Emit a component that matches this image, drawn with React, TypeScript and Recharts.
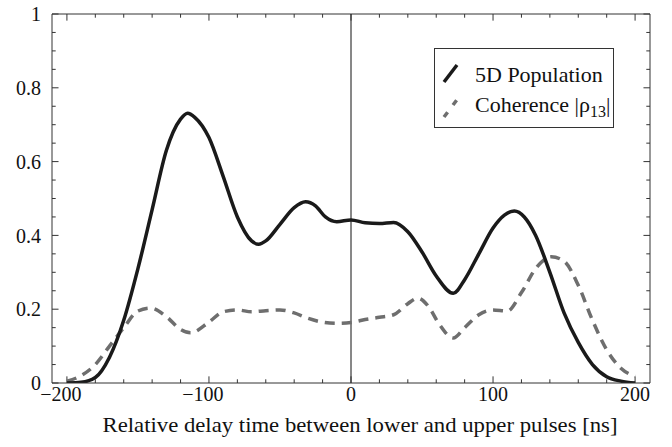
import { Line, LineChart, ReferenceLine, XAxis, YAxis } from "recharts";

const popTimes = [
  -200, -190, -180, -170, -160, -150, -140, -130, -120, -115, -110, -100, -90,
  -80, -70, -65, -60, -50, -40, -32, -25, -18, -10, 0, 10, 20, 30, 40, 50, 60,
  72, 80, 90, 100, 108, 115, 122, 130, 140, 150, 160, 170, 180, 190, 200,
];
const popValues = [
  0.0, 0.002, 0.015, 0.07, 0.17, 0.31, 0.47, 0.63, 0.715, 0.731, 0.72, 0.665,
  0.56, 0.45, 0.385, 0.376, 0.385, 0.43, 0.475, 0.491, 0.48, 0.45, 0.437,
  0.442, 0.434, 0.432, 0.435, 0.41, 0.355, 0.29, 0.243, 0.28, 0.35, 0.42,
  0.455, 0.466, 0.45, 0.4, 0.3, 0.19, 0.11, 0.05, 0.017, 0.005, 0.0,
];
const cohTimes = [
  -200, -190, -180, -170, -160, -150, -141, -130, -120, -113, -100, -90, -80,
  -70, -60, -50, -40, -30, -20, -10, 0, 10, 20, 30, 40, 47, 55, 62, 72, 80,
  90, 100, 110, 120, 130, 141, 150, 160, 170, 180, 190, 200,
];
const cohValues = [
  0.005, 0.02, 0.05, 0.1, 0.15, 0.195, 0.203, 0.18, 0.145, 0.136, 0.165,
  0.193, 0.198, 0.193, 0.196, 0.198, 0.19, 0.175, 0.165, 0.162, 0.164, 0.172,
  0.178, 0.185, 0.215, 0.23, 0.205, 0.16, 0.122, 0.15, 0.185, 0.198, 0.195,
  0.245, 0.31, 0.342, 0.33, 0.265, 0.17, 0.09, 0.04, 0.018,
];

const xTicks = [-200, -100, 0, 100, 200];
const yTicks = [0, 0.2, 0.4, 0.6, 0.8, 1];
const xMinorTicks = Array.from({ length: 21 }, (_, i) => -200 + i * 20);
const yMinorTicks = Array.from({ length: 21 }, (_, i) => +(i * 0.05).toFixed(2));

const seriesNames = ["5D Population", "Coherence"];
const xTitle = "Relative delay time between lower and upper pulses [ns]";

const popData = popTimes.map((t, i) => ({ t, v: popValues[i] }));
const cohData = cohTimes.map((t, i) => ({ t, v: cohValues[i] }));

const X_MIN = -210.5;
const X_MAX = 210.5;
const FONT = "Liberation Serif";
const FRAME = "#333";
const INK = "#111";

function XTick({ x, y, payload }: any) {
  const v = payload.value as number;
  const text = v < 0 ? `\u2212${Math.abs(v)}` : `${v}`;
  return (
    <text
      x={x + (v < 0 ? -6 : 0)}
      y={y + 16}
      textAnchor="middle"
      fontFamily={FONT}
      fontSize={20}
      fill={INK}
    >
      {text}
    </text>
  );
}

function XTitle({ viewBox }: any) {
  const { x, width } = viewBox;
  return (
    <text
      x={x + width / 2 + 9}
      y={432}
      textAnchor="middle"
      fontFamily={FONT}
      fontSize={21}
      fill={INK}
      textLength={515}
      lengthAdjust="spacingAndGlyphs"
    >
      {xTitle}
    </text>
  );
}

function tickMarks() {
  const marks = [];
  const major = (v: number, list: number[]) => list.some((m) => Math.abs(m - v) < 1e-6);
  for (const x of xMinorTicks) {
    const h = major(x, xTicks) ? 0.018 : 0.01;
    marks.push(
      <ReferenceLine key={`xb${x}`} segment={[{ x, y: 0 }, { x, y: h }]} stroke={FRAME} />,
      <ReferenceLine key={`xt${x}`} segment={[{ x, y: 1 }, { x, y: 1 - h }]} stroke={FRAME} />,
    );
  }
  for (const y of yMinorTicks) {
    const w = major(y, yTicks) ? 4.6 : 2.6;
    marks.push(
      <ReferenceLine key={`yl${y}`} segment={[{ x: X_MIN, y }, { x: X_MIN + w, y }]} stroke={FRAME} />,
      <ReferenceLine key={`yr${y}`} segment={[{ x: X_MAX, y }, { x: X_MAX - w, y }]} stroke={FRAME} />,
    );
  }
  return marks;
}

export default function App() {
  return (
    <div style={{ position: "absolute", left: 0, top: 0, width: 672, height: 447, background: "#fff", fontFamily: FONT }}>
      <LineChart
        width={672}
        height={447}
        margin={{ top: 14, right: 22, bottom: 8, left: 0 }}
        style={{ fontFamily: FONT }}
      >
        <XAxis
          type="number"
          dataKey="t"
          domain={[X_MIN, X_MAX]}
          ticks={xTicks}
          tickLine={false}
          tickSize={0}
          axisLine={{ stroke: FRAME }}
          height={56}
          tick={<XTick />}
          allowDataOverflow
          label={<XTitle />}
        />
        <YAxis
          type="number"
          domain={[0, 1]}
          ticks={yTicks}
          tickFormatter={(v: number) => `${v}`}
          tickLine={false}
          tickSize={0}
          tickMargin={11}
          axisLine={{ stroke: FRAME }}
          width={52}
          tick={{ fill: INK, fontSize: 20, fontFamily: FONT }}
          allowDataOverflow
        />
        <ReferenceLine y={1} stroke={FRAME} />
        <ReferenceLine x={X_MAX} stroke={FRAME} />
        <ReferenceLine x={0} stroke={INK} strokeWidth={1} />
        {tickMarks()}
        <Line
          data={cohData}
          dataKey="v"
          name={seriesNames[1]}
          type="monotone"
          stroke="#6e6e6e"
          strokeWidth={3.5}
          strokeDasharray="10 7"
          dot={false}
          isAnimationActive={false}
        />
        <Line
          data={popData}
          dataKey="v"
          name={seriesNames[0]}
          type="monotone"
          stroke="#1a1a1a"
          strokeWidth={3.5}
          dot={false}
          isAnimationActive={false}
        />
      </LineChart>
      <div
        style={{
          position: "absolute",
          left: 434,
          top: 48,
          width: 178,
          height: 78,
          border: `1px solid ${FRAME}`,
          background: "#fff",
          fontFamily: FONT,
          fontSize: 22,
          color: INK,
        }}
      >
        <svg width={30} height={78} style={{ position: "absolute", left: 0, top: 0 }}>
          <line x1={9} y1={33} x2={22} y2={16} stroke="#1a1a1a" strokeWidth={3.5} />
          <line x1={9} y1={68} x2={24} y2={48} stroke="#6e6e6e" strokeWidth={3.5} strokeDasharray="6 9" />
        </svg>
        <div style={{ position: "absolute", left: 40, top: 13, whiteSpace: "nowrap", lineHeight: "26px" }}>
          {seriesNames[0]}
        </div>
        <div style={{ position: "absolute", left: 40, top: 43, whiteSpace: "nowrap", lineHeight: "26px" }}>
          {seriesNames[1]} |ρ<sub style={{ fontSize: 16, verticalAlign: "-5px" }}>13</sub>|
        </div>
      </div>
    </div>
  );
}
